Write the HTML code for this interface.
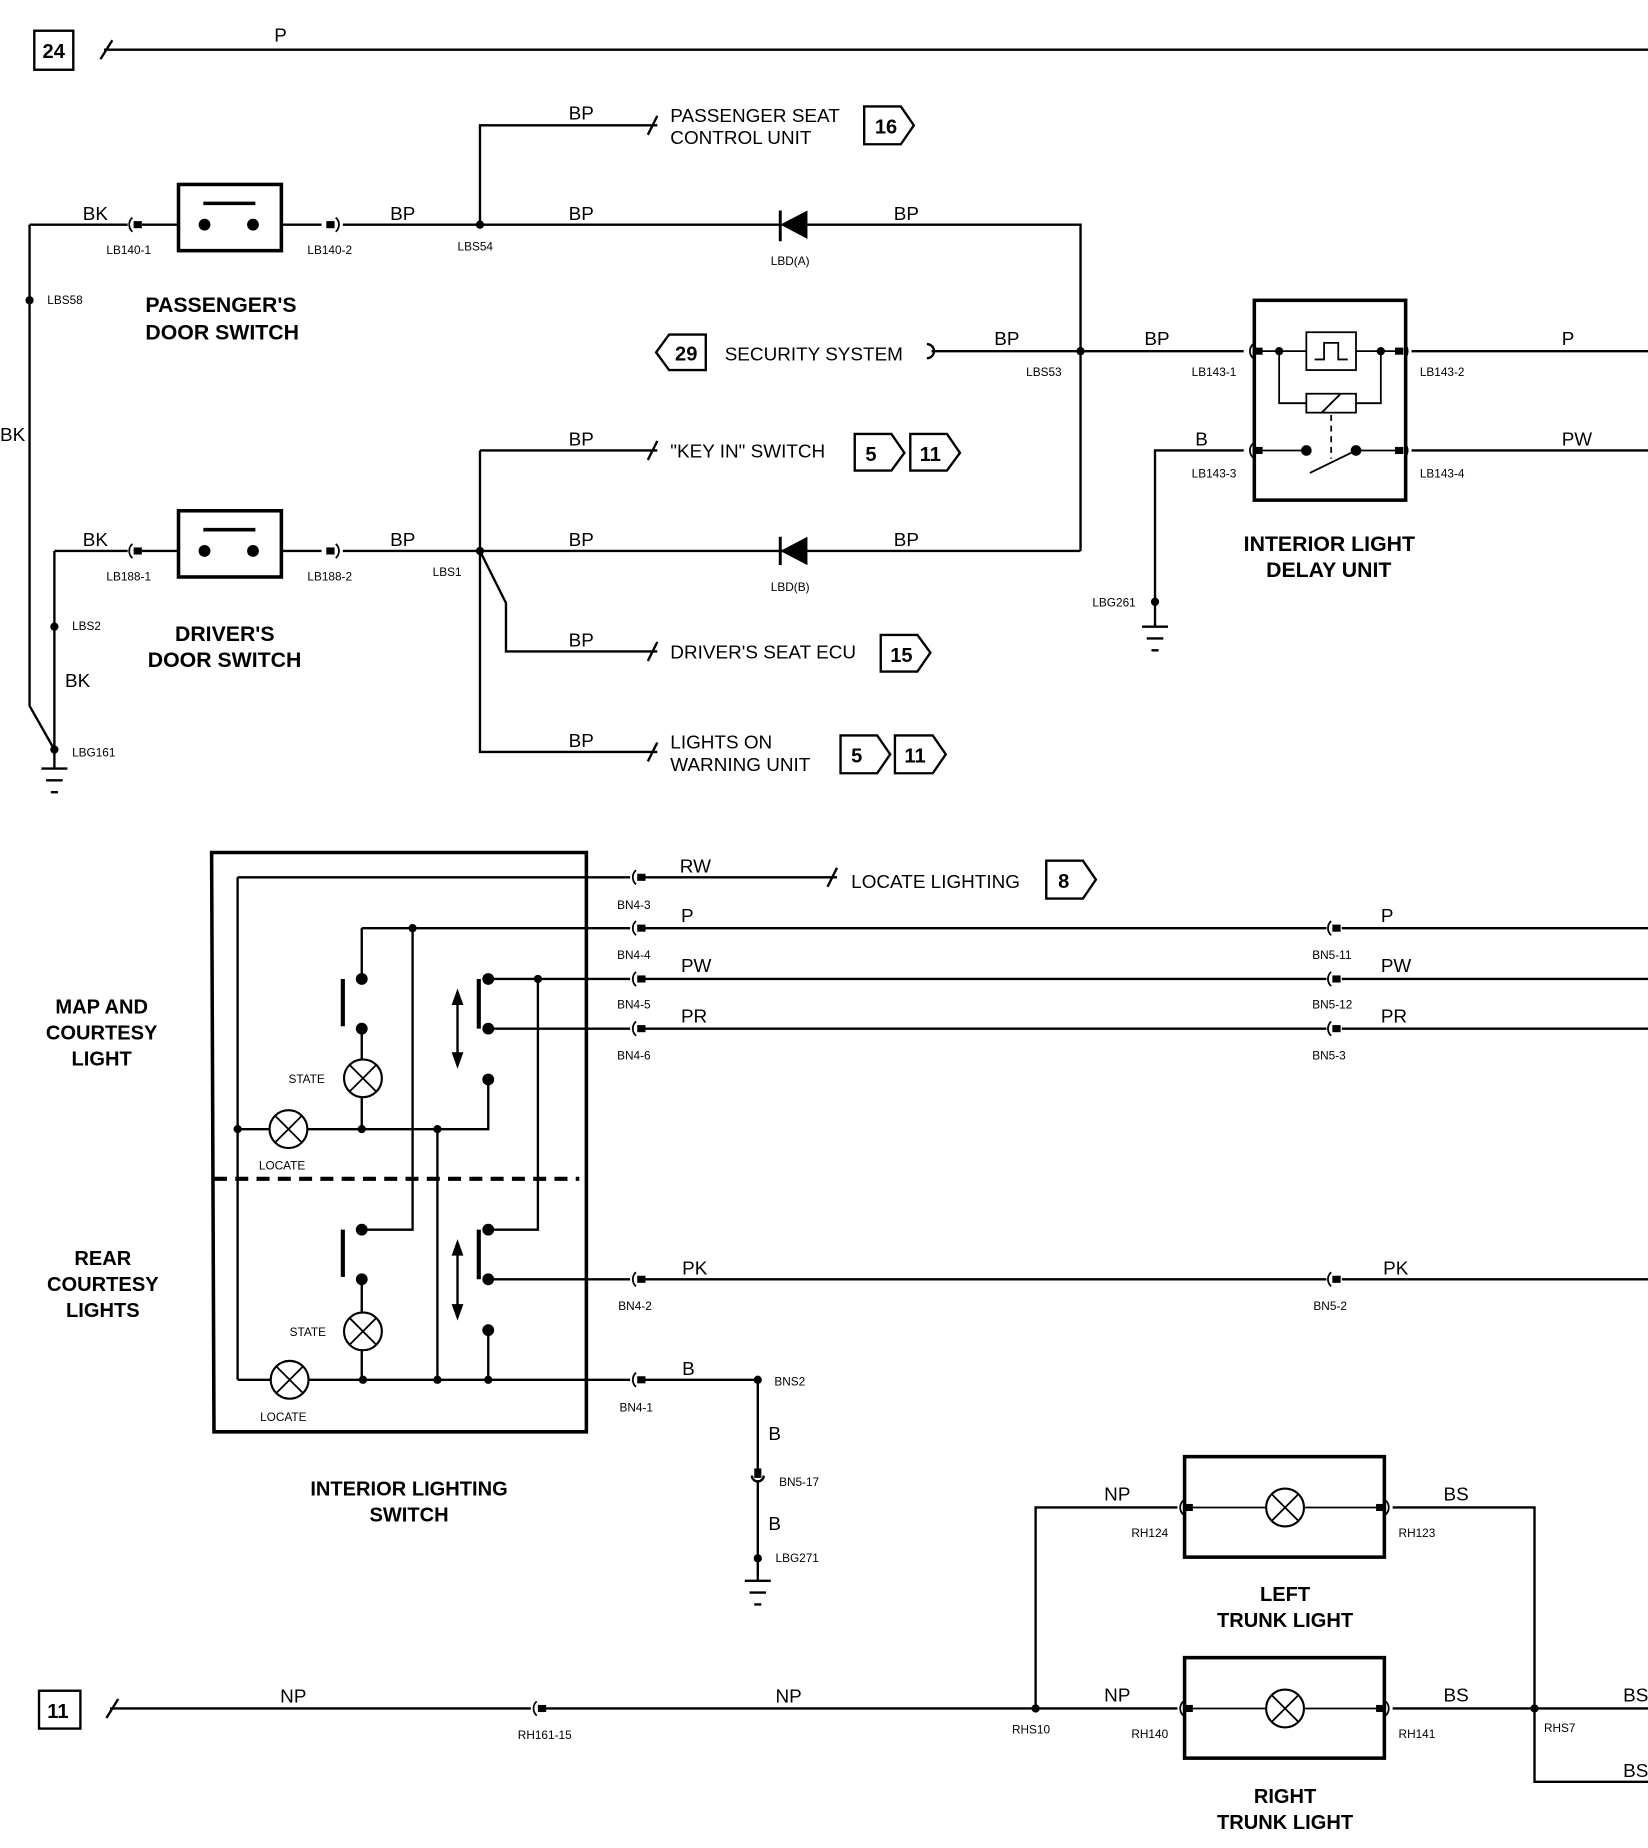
<!DOCTYPE html>
<html><head><meta charset="utf-8"><style>
html,body{margin:0;padding:0;background:#fff;}
svg{display:block;}
text{font-family:"Liberation Sans",sans-serif;fill:#000;}
.l{font-size:16px;}
.s{font-size:10px;}
.t{font-size:18px;font-weight:bold;}
.b{font-size:17px;font-weight:bold;}
</style></head><body>
<svg width="1648" height="1848" viewBox="0 0 1394 1563" preserveAspectRatio="none" xmlns="http://www.w3.org/2000/svg">
<defs>
<g id="cl"><path d="M-1,-6 A8,8 0 0 0 -1,6" fill="none" stroke="#000" stroke-width="1.5"/><rect x="0" y="-3" width="7" height="6" fill="#000"/></g>
<g id="cr"><path d="M1,-6 A8,8 0 0 1 1,6" fill="none" stroke="#000" stroke-width="1.5"/><rect x="-7" y="-3" width="7" height="6" fill="#000"/></g>
<g id="lamp"><circle r="16" fill="#fff" stroke="#000" stroke-width="1.8"/><path d="M-11,-11 L11,11 M11,-11 L-11,11" stroke="#000" stroke-width="1.5"/></g>
<g id="gnd"><path d="M-11,0 H11 M-7,10 H7 M-3,20 H3" stroke="#000" stroke-width="2"/></g>
</defs>
<g fill="none" stroke="#000" stroke-width="2">
<!-- top -->
<rect x="29" y="26" width="33" height="33"/>
<path d="M85,50 L95,34 M88,42 H1394"/>
<!-- passenger switch -->
<rect x="151" y="156" width="87" height="56" stroke-width="3"/>
<path d="M172,172 H216" stroke-width="3"/>
<path d="M25,190 H108 M120,190 H151 M238,190 H272 M290,190 H660 M683,190 H914 V466 M660,466 H914"/>
<path d="M25,190 V597 L46,634 M46,466 V650 M46,466 H108 M120,466 H151 M238,466 H272 M290,466 H660"/>
<path d="M406,190 V106 H556 M548,114 L556,98"/>
<path d="M660,178 V204 M660,454 V478" stroke-width="2.5"/>
<path d="M784,291 A6,6 0 0 1 784,303 M788,297 H1052 M1194,297 H1394 M1194,381 H1394 M1052,381 H977 V530"/>
<!-- driver -->
<rect x="151" y="432" width="87" height="56" stroke-width="3"/>
<path d="M172,448 H216" stroke-width="3"/>
<path d="M406,381 V636 H556 M406,381 H556 M406,466 L428,510 V551 H556 M548,389 L556,373 M548,559 L556,543 M548,644 L556,628"/>
<!-- delay unit -->
<rect x="1061" y="254" width="128" height="169" stroke-width="3"/>
<rect x="1105" y="281" width="42" height="32" stroke-width="1.5"/>
<path d="M1112,304 H1120 V290 H1132 V304 H1140" stroke-width="1.5"/>
<path d="M1066,297 H1105 M1147,297 H1184 M1082,297 V341 H1105 M1168,297 V341 H1147" stroke-width="1.5"/>
<rect x="1105" y="333" width="42" height="16" stroke-width="1.5"/>
<path d="M1118,349 L1134,333 M1126,351 V388" stroke-width="1.5" stroke-dasharray="5,4"/>
<path d="M1118,349 L1134,333" stroke-width="1.5"/>
<path d="M1066,381 H1105 M1147,381 H1184 M1108,400 L1147,381" stroke-width="1.5"/>
<!-- boxes -->
<path d="M731,90 H762 L773,106 L762,122 H731 Z"/>
<path d="M597,283 H566 L555,298 L566,313 H597 Z"/>
<path d="M723,367 H754 L765,383 L754,398 H723 Z M770,367 H801 L812,383 L801,398 H770 Z"/>
<path d="M745,537 H776 L787,552 L776,568 H745 Z"/>
<path d="M711,622 H742 L753,638 L742,654 H711 Z M757,622 H789 L800,638 L789,654 H757 Z"/>
<path d="M885,728 H916 L927,744 L916,760 H885 Z"/>
<!-- interior lighting switch -->
<path d="M179,721 H496 V1211 H181 Z" stroke-width="3"/>
<path d="M181,997 H490" stroke-width="3.5" stroke-dasharray="11,7"/>
<path d="M201,742 V1167 M201,742 H533 M545,742 H708 M700,750 L708,734"/>
<path d="M306,785 H533 M306,785 V828 M306,870 V955 M349,785 V1040 H306 M201,955 H413 V913 M370,955 V1167"/>
<path d="M413,828 H533 M413,870 H533 M455,828 V1040 H413 M413,1082 H533 M306,1082 V1167 M201,1167 H533 M413,1125 V1167"/>
<path d="M290,828 V868 M405,828 V870 M290,1040 V1080 M405,1040 V1082" stroke-width="3.5"/>
<path d="M387,842 V898 M387,1054 V1111" stroke-width="2"/>
<path d="M545,785 H1122 M1135,785 H1394 M545,828 H1122 M1135,828 H1394 M545,870 H1122 M1135,870 H1394 M545,1082 H1122 M1135,1082 H1394"/>
<path d="M545,1167 H641 V1244 M641,1252 V1337"/>
<path d="M636,1248 A5,5 0 0 0 646,1248"/>
<!-- bottom -->
<rect x="33" y="1430" width="35" height="32"/>
<path d="M90,1453 L100,1437 M93,1445 H449 M461,1445 H996 M876,1445 V1275 H996 M1178,1275 H1298 V1507 H1394 M1178,1445 H1394"/>
<rect x="1002" y="1232" width="169" height="85" stroke-width="3"/>
<rect x="1002" y="1402" width="169" height="85" stroke-width="3"/>
<path d="M1008,1275 H1165 M1008,1445 H1165" stroke-width="1.5"/>
</g>
<!-- arrowheads / diodes -->
<g fill="#000">
<path d="M660,190 L683,178 L683,202 Z M660,466 L683,454 L683,478 Z"/>
<path d="M387,836 L382,850 L392,850 Z M387,904 L382,890 L392,890 Z M387,1048 L382,1062 L392,1062 Z M387,1117 L382,1103 L392,1103 Z"/>
<circle cx="173" cy="190" r="5"/><circle cx="214" cy="190" r="5"/>
<circle cx="173" cy="466" r="5"/><circle cx="214" cy="466" r="5"/>
<circle cx="25" cy="254" r="3.5"/><circle cx="406" cy="190" r="3.5"/><circle cx="914" cy="297" r="3.5"/>
<circle cx="46" cy="530" r="3.5"/><circle cx="46" cy="634" r="3.5"/><circle cx="406" cy="466" r="3.5"/><circle cx="977" cy="509" r="3.5"/>
<circle cx="1082" cy="297" r="3.5"/><circle cx="1168" cy="297" r="3.5"/><circle cx="1105" cy="381" r="4.5"/><circle cx="1147" cy="381" r="4.5"/>
<circle cx="349" cy="785" r="3.5"/><circle cx="306" cy="828" r="5"/><circle cx="306" cy="870" r="5"/><circle cx="413" cy="828" r="5"/><circle cx="413" cy="870" r="5"/><circle cx="455" cy="828" r="3.5"/><circle cx="413" cy="913" r="5"/>
<circle cx="201" cy="955" r="3.5"/><circle cx="306" cy="955" r="3.5"/><circle cx="370" cy="955" r="3.5"/>
<circle cx="306" cy="1040" r="5"/><circle cx="306" cy="1082" r="5"/><circle cx="413" cy="1040" r="5"/><circle cx="413" cy="1082" r="5"/><circle cx="413" cy="1125" r="5"/>
<circle cx="307" cy="1167" r="3.5"/><circle cx="370" cy="1167" r="3.5"/><circle cx="413" cy="1167" r="3.5"/>
<circle cx="641" cy="1167" r="3.5"/><circle cx="641" cy="1318" r="3.5"/><rect x="638" y="1242" width="6" height="8"/>
<circle cx="876" cy="1445" r="3.5"/><circle cx="1298" cy="1445" r="3.5"/>
</g>
<use href="#cl" x="113" y="190"/><use href="#cr" x="283" y="190"/>
<use href="#cl" x="113" y="466"/><use href="#cr" x="283" y="466"/>
<use href="#cl" x="1061" y="297"/><use href="#cr" x="1187" y="297"/>
<use href="#cl" x="1061" y="381"/><use href="#cr" x="1187" y="381"/>
<use href="#cl" x="539" y="742"/><use href="#cl" x="539" y="785"/><use href="#cl" x="539" y="828"/><use href="#cl" x="539" y="870"/><use href="#cl" x="539" y="1082"/><use href="#cl" x="539" y="1167"/>
<use href="#cl" x="1127" y="785"/><use href="#cl" x="1127" y="828"/><use href="#cl" x="1127" y="870"/><use href="#cl" x="1127" y="1082"/>
<use href="#cl" x="455" y="1445"/>
<use href="#cl" x="1002" y="1275"/><use href="#cr" x="1171" y="1275"/>
<use href="#cl" x="1002" y="1445"/><use href="#cr" x="1171" y="1445"/>
<use href="#lamp" x="307" y="912"/><use href="#lamp" x="244" y="955"/>
<use href="#lamp" x="307" y="1126"/><use href="#lamp" x="245" y="1167"/>
<use href="#lamp" x="1087" y="1275"/><use href="#lamp" x="1087" y="1445"/>
<use href="#gnd" x="46" y="650"/><use href="#gnd" x="977" y="530"/><use href="#gnd" x="641" y="1337"/>
<!-- text -->
<text class="b" x="36" y="49">24</text>
<text class="b" x="740" y="113">16</text>
<text class="b" x="571" y="305">29</text>
<text class="b" x="732" y="390">5</text>
<text class="b" x="778" y="390">11</text>
<text class="b" x="753" y="560">15</text>
<text class="b" x="720" y="645">5</text>
<text class="b" x="765" y="645">11</text>
<text class="b" x="895" y="751">8</text>
<text class="b" x="40" y="1453">11</text>
<text class="l" x="232" y="35">P</text>
<text class="l" x="481" y="101">BP</text>
<text class="l" x="567" y="103">PASSENGER SEAT</text>
<text class="l" x="567" y="122">CONTROL UNIT</text>
<text class="l" x="70" y="186">BK</text><text class="l" x="330" y="186">BP</text><text class="l" x="481" y="186">BP</text><text class="l" x="756" y="186">BP</text>
<text class="s" x="90" y="215">LB140-1</text><text class="s" x="260" y="215">LB140-2</text><text class="s" x="387" y="212">LBS54</text><text class="s" x="652" y="224">LBD(A)</text>
<text class="s" x="40" y="257">LBS58</text>
<text class="t" x="123" y="264">PASSENGER'S</text><text class="t" x="123" y="287">DOOR SWITCH</text>
<text class="l" x="0" y="373">BK</text>
<text class="l" x="613" y="305">SECURITY SYSTEM</text>
<text class="l" x="841" y="292">BP</text><text class="l" x="968" y="292">BP</text><text class="l" x="1321" y="292">P</text>
<text class="s" x="868" y="318">LBS53</text><text class="s" x="1008" y="318">LB143-1</text><text class="s" x="1201" y="318">LB143-2</text>
<text class="l" x="481" y="377">BP</text><text class="l" x="567" y="387">"KEY IN" SWITCH</text>
<text class="l" x="1011" y="377">B</text><text class="l" x="1321" y="377">PW</text>
<text class="s" x="1008" y="404">LB143-3</text><text class="s" x="1201" y="404">LB143-4</text>
<text class="l" x="70" y="462">BK</text><text class="l" x="330" y="462">BP</text><text class="l" x="481" y="462">BP</text><text class="l" x="756" y="462">BP</text>
<text class="s" x="90" y="491">LB188-1</text><text class="s" x="260" y="491">LB188-2</text><text class="s" x="366" y="487">LBS1</text><text class="s" x="652" y="500">LBD(B)</text>
<text class="t" x="1052" y="466">INTERIOR LIGHT</text><text class="t" x="1071" y="488">DELAY UNIT</text>
<text class="s" x="924" y="513">LBG261</text><text class="s" x="61" y="533">LBS2</text>
<text class="t" x="148" y="542">DRIVER'S</text><text class="t" x="125" y="564">DOOR SWITCH</text>
<text class="l" x="481" y="547">BP</text><text class="l" x="567" y="557">DRIVER'S SEAT ECU</text>
<text class="l" x="55" y="581">BK</text>
<text class="l" x="481" y="632">BP</text><text class="l" x="567" y="633">LIGHTS ON</text><text class="l" x="567" y="652">WARNING UNIT</text>
<text class="s" x="61" y="640">LBG161</text>
<text class="l" x="575" y="738">RW</text><text class="l" x="720" y="751">LOCATE LIGHTING</text>
<text class="s" x="522" y="769">BN4-3</text>
<text class="l" x="576" y="780">P</text><text class="l" x="1168" y="780">P</text>
<text class="s" x="522" y="811">BN4-4</text><text class="s" x="1110" y="811">BN5-11</text>
<text class="l" x="576" y="822">PW</text><text class="l" x="1168" y="822">PW</text>
<text class="s" x="522" y="853">BN4-5</text><text class="s" x="1110" y="853">BN5-12</text>
<text class="l" x="576" y="865">PR</text><text class="l" x="1168" y="865">PR</text>
<text class="s" x="522" y="896">BN4-6</text><text class="s" x="1110" y="896">BN5-3</text>
<text class="b" x="86" y="857" text-anchor="middle">MAP AND</text><text class="b" x="86" y="879" text-anchor="middle">COURTESY</text><text class="b" x="86" y="901" text-anchor="middle">LIGHT</text>
<text class="s" x="244" y="916">STATE</text><text class="s" x="219" y="989">LOCATE</text>
<text class="b" x="87" y="1070" text-anchor="middle">REAR</text><text class="b" x="87" y="1092" text-anchor="middle">COURTESY</text><text class="b" x="87" y="1114" text-anchor="middle">LIGHTS</text>
<text class="l" x="577" y="1078">PK</text><text class="l" x="1170" y="1078">PK</text>
<text class="s" x="523" y="1108">BN4-2</text><text class="s" x="1111" y="1108">BN5-2</text>
<text class="s" x="245" y="1130">STATE</text><text class="s" x="220" y="1202">LOCATE</text>
<text class="l" x="577" y="1163">B</text><text class="s" x="655" y="1172">BNS2</text><text class="s" x="524" y="1194">BN4-1</text>
<text class="l" x="650" y="1218">B</text><text class="s" x="659" y="1257">BN5-17</text>
<text class="l" x="650" y="1294">B</text><text class="s" x="656" y="1321">LBG271</text>
<text class="b" x="346" y="1265" text-anchor="middle">INTERIOR LIGHTING</text><text class="b" x="346" y="1287" text-anchor="middle">SWITCH</text>
<text class="l" x="934" y="1269">NP</text><text class="l" x="1221" y="1269">BS</text>
<text class="s" x="957" y="1300">RH124</text><text class="s" x="1183" y="1300">RH123</text>
<text class="b" x="1087" y="1354" text-anchor="middle">LEFT</text><text class="b" x="1087" y="1376" text-anchor="middle">TRUNK LIGHT</text>
<text class="l" x="237" y="1440">NP</text><text class="l" x="656" y="1440">NP</text><text class="l" x="934" y="1439">NP</text><text class="l" x="1221" y="1439">BS</text><text class="l" x="1373" y="1439">BS</text>
<text class="s" x="438" y="1471">RH161-15</text><text class="s" x="856" y="1466">RHS10</text><text class="s" x="957" y="1470">RH140</text><text class="s" x="1183" y="1470">RH141</text><text class="s" x="1306" y="1465">RHS7</text>
<text class="l" x="1373" y="1503">BS</text>
<text class="b" x="1087" y="1525" text-anchor="middle">RIGHT</text><text class="b" x="1087" y="1547" text-anchor="middle">TRUNK LIGHT</text>
</svg>
</body></html>
